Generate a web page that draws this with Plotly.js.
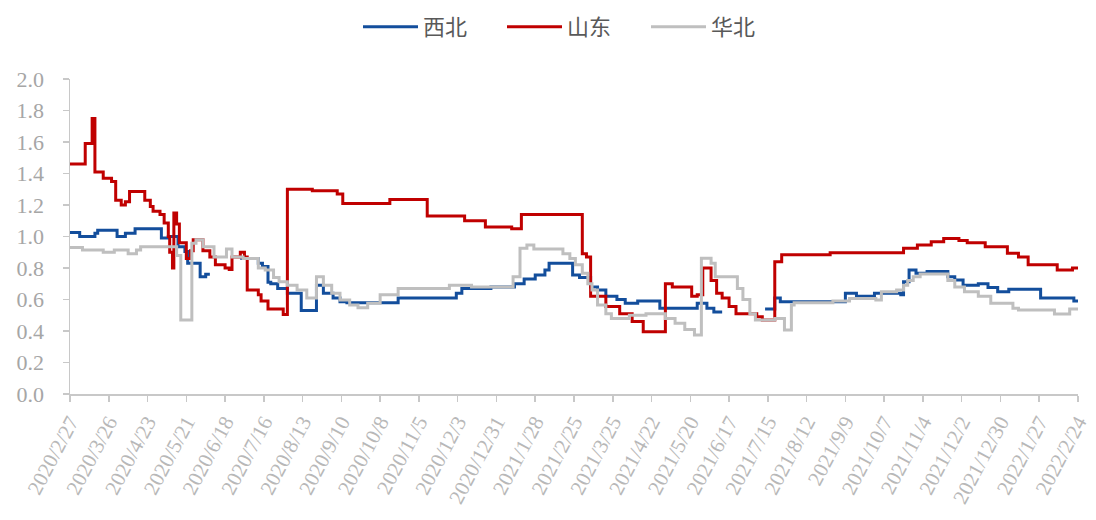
<!DOCTYPE html>
<html>
<head>
<meta charset="utf-8">
<script src="https://cdn.plot.ly/plotly-3.0.1.min.js"></script>
<style>html,body{margin:0;padding:0;background:#fff;}#chart{width:1096px;height:520px;}</style>
</head>
<body>
<div id="chart"></div>
<script>
// ---- data ----
var seriesNames = ['西北', '山东', '华北'];

var tickLabels = ['2020/2/27','2020/3/26','2020/4/23','2020/5/21','2020/6/18','2020/7/16','2020/8/13','2020/9/10','2020/10/8','2020/11/5','2020/12/3','2020/12/31','2021/1/28','2021/2/25','2021/3/25','2021/4/22','2021/5/20','2021/6/17','2021/7/15','2021/8/12','2021/9/9','2021/10/7','2021/11/4','2021/12/2','2021/12/30','2022/1/27','2022/2/24'];

var xbDates = ['2020-02-27','2020-03-05','2020-03-16','2020-03-18','2020-04-01','2020-04-07','2020-04-14','2020-05-03','2020-05-08','2020-05-15','2020-05-20','2020-05-22','2020-05-31','2020-06-04','2020-06-07','2020-06-08','2020-06-29','2020-07-12','2020-07-15','2020-07-19','2020-07-21','2020-07-26','2020-08-02','2020-08-12','2020-08-23','2020-08-28','2020-09-04','2020-09-09','2020-09-14','2020-10-21','2020-12-02','2020-12-06','2020-12-27','2021-01-13','2021-01-20','2021-01-28','2021-02-04','2021-02-07','2021-02-24','2021-03-01','2021-03-09','2021-03-14','2021-03-20','2021-03-28','2021-04-03','2021-04-12','2021-04-28','2021-05-25','2021-06-01','2021-06-06','2021-06-12','2021-06-13','2021-07-13','2021-07-20','2021-07-24','2021-09-09','2021-09-17','2021-09-30','2021-10-19','2021-10-21','2021-10-25','2021-10-30','2021-11-07','2021-11-22','2021-11-27','2021-12-03','2021-12-14','2021-12-21','2021-12-28','2022-01-05','2022-01-28','2022-02-21','2022-02-24'];
var xbValues = [1.025,1.00,1.02,1.04,1.00,1.02,1.05,0.99,1.00,0.935,0.905,0.83,0.745,0.76,0.76,null,0.86,0.83,0.81,0.71,0.70,0.67,0.64,0.53,0.69,0.64,0.61,0.586,0.58,0.61,0.64,0.67,0.68,0.70,0.73,0.755,0.787,0.83,0.755,0.74,0.68,0.66,0.62,0.60,0.576,0.59,0.545,0.576,0.545,0.52,0.52,null,0.54,0.61,0.586,0.64,0.62,0.64,0.63,0.713,0.787,0.766,0.777,0.745,0.724,0.69,0.70,0.676,0.65,0.665,0.61,0.59,0.59];

var sdDates = ['2020-02-27','2020-03-09','2020-03-14','2020-03-16','2020-03-22','2020-03-28','2020-03-31','2020-04-04','2020-04-07','2020-04-10','2020-04-21','2020-04-25','2020-04-27','2020-05-02','2020-05-05','2020-05-08','2020-05-09','2020-05-11','2020-05-12','2020-05-14','2020-05-16','2020-05-21','2020-05-24','2020-05-26','2020-06-02','2020-06-07','2020-06-11','2020-06-18','2020-06-21','2020-06-23','2020-06-29','2020-07-02','2020-07-04','2020-07-12','2020-07-14','2020-07-19','2020-07-30','2020-08-02','2020-08-20','2020-09-07','2020-09-11','2020-10-15','2020-11-11','2020-12-08','2020-12-23','2021-01-11','2021-01-18','2021-03-03','2021-03-06','2021-03-09','2021-03-20','2021-03-30','2021-04-08','2021-04-16','2021-05-02','2021-05-07','2021-05-21','2021-05-25','2021-05-29','2021-06-04','2021-06-08','2021-06-12','2021-06-17','2021-06-22','2021-07-07','2021-07-11','2021-07-20','2021-07-25','2021-08-29','2021-10-21','2021-10-31','2021-11-10','2021-11-19','2021-11-30','2021-12-06','2021-12-19','2022-01-04','2022-01-12','2022-01-19','2022-02-09','2022-02-20','2022-02-24'];
var sdValues = [1.46,1.59,1.75,1.41,1.37,1.35,1.23,1.20,1.22,1.285,1.23,1.19,1.16,1.14,1.085,1.00,0.90,0.80,1.15,1.08,0.96,0.86,0.91,0.98,0.91,0.87,0.82,0.80,0.79,0.87,0.90,0.87,0.66,0.63,0.59,0.54,0.505,1.30,1.29,1.27,1.21,1.235,1.13,1.10,1.06,1.05,1.14,0.89,0.87,0.62,0.555,0.51,0.46,0.395,0.70,0.68,0.62,0.63,0.80,0.72,0.64,0.61,0.555,0.51,0.49,0.47,0.84,0.884,0.897,0.925,0.946,0.967,0.988,0.975,0.96,0.935,0.893,0.87,0.82,0.787,0.80,0.80];

var hbDates = ['2020-02-27','2020-03-07','2020-03-22','2020-03-30','2020-04-09','2020-04-15','2020-04-18','2020-05-14','2020-05-17','2020-05-25','2020-05-28','2020-06-02','2020-06-10','2020-06-19','2020-06-23','2020-07-01','2020-07-12','2020-07-17','2020-07-23','2020-07-27','2020-08-02','2020-08-09','2020-08-16','2020-08-23','2020-08-28','2020-09-03','2020-09-09','2020-09-16','2020-09-22','2020-09-29','2020-10-08','2020-10-21','2020-11-27','2020-12-13','2021-01-12','2021-01-17','2021-01-22','2021-01-27','2021-02-17','2021-02-22','2021-02-26','2021-03-03','2021-03-07','2021-03-10','2021-03-14','2021-03-20','2021-03-24','2021-04-06','2021-04-18','2021-05-02','2021-05-09','2021-05-16','2021-05-23','2021-05-28','2021-06-04','2021-06-07','2021-06-23','2021-06-27','2021-07-02','2021-07-06','2021-07-20','2021-07-27','2021-08-01','2021-08-03','2021-08-31','2021-09-12','2021-10-01','2021-10-05','2021-10-16','2021-10-21','2021-10-24','2021-10-28','2021-11-02','2021-11-22','2021-11-27','2021-12-04','2021-12-14','2021-12-23','2022-01-08','2022-01-12','2022-02-07','2022-02-18','2022-02-24'];
var hbValues = [0.93,0.914,0.90,0.914,0.89,0.914,0.935,0.88,0.47,0.957,0.98,0.935,0.87,0.92,0.87,0.86,0.80,0.787,0.74,0.713,0.69,0.66,0.61,0.745,0.69,0.64,0.597,0.565,0.548,0.576,0.63,0.67,0.69,0.68,0.745,0.925,0.946,0.92,0.89,0.86,0.82,0.766,0.70,0.66,0.565,0.51,0.48,0.50,0.51,0.48,0.45,0.41,0.375,0.862,0.83,0.745,0.67,0.60,0.51,0.47,0.48,0.406,0.565,0.58,0.59,0.607,0.597,0.65,0.66,0.69,0.72,0.745,0.762,0.72,0.68,0.65,0.62,0.576,0.545,0.533,0.508,0.54,0.54];

// ---- chart ----
var tickVals = tickLabels.map(function(s){ return s.replace(/\//g, '-'); });

function trace(name, x, y, color) {
  return {
    type: 'scatter', mode: 'lines', name: name, x: x, y: y,
    connectgaps: false,
    line: {color: color, width: 3, shape: 'hv'},
    hoverinfo: 'skip'
  };
}

var data = [
  trace(seriesNames[0], xbDates, xbValues, '#134E9C'),
  trace(seriesNames[1], sdDates, sdValues, '#C00000'),
  trace(seriesNames[2], hbDates, hbValues, '#BFBFBF')
];

var layout = {
  width: 1096, height: 520,
  margin: {l: 70, r: 18, t: 79, b: 126, autoexpand: false},
  paper_bgcolor: '#ffffff', plot_bgcolor: '#ffffff',
  showlegend: true,
  legend: {
    orientation: 'h', x: 0.5, xanchor: 'center', y: 1.165, yanchor: 'middle',
    font: {family: 'Noto Sans CJK SC', size: 22, color: '#595959'},
    itemwidth: 55, entrywidth: 74
  },
  xaxis: {
    type: 'date',
    range: ['2020-02-27', '2022-02-24'],
    tickmode: 'array', tickvals: tickVals, ticktext: tickLabels,
    tickangle: -62,
    tickfont: {family: 'Liberation Serif', size: 21, color: '#B8B8B8'},
    showline: true, linecolor: '#C8C8C8', linewidth: 1.5,
    ticks: 'outside', ticklen: 6, tickcolor: '#C8C8C8', tickwidth: 1.5,
    showgrid: false, zeroline: false, fixedrange: true
  },
  yaxis: {
    range: [0, 2], dtick: 0.2, tick0: 0, tickformat: '.1f',
    tickfont: {family: 'Liberation Serif', size: 22, color: '#A6A6A6'},
    showline: true, linecolor: '#C8C8C8', linewidth: 1.5,
    ticks: 'outside', ticklen: 6, tickcolor: '#C8C8C8', tickwidth: 1.5,
    ticklabelstandoff: 14,
    showgrid: false, zeroline: false, fixedrange: true
  }
};

Plotly.newPlot('chart', data, layout, {displayModeBar: false, staticPlot: true});
</script>
</body>
</html>
